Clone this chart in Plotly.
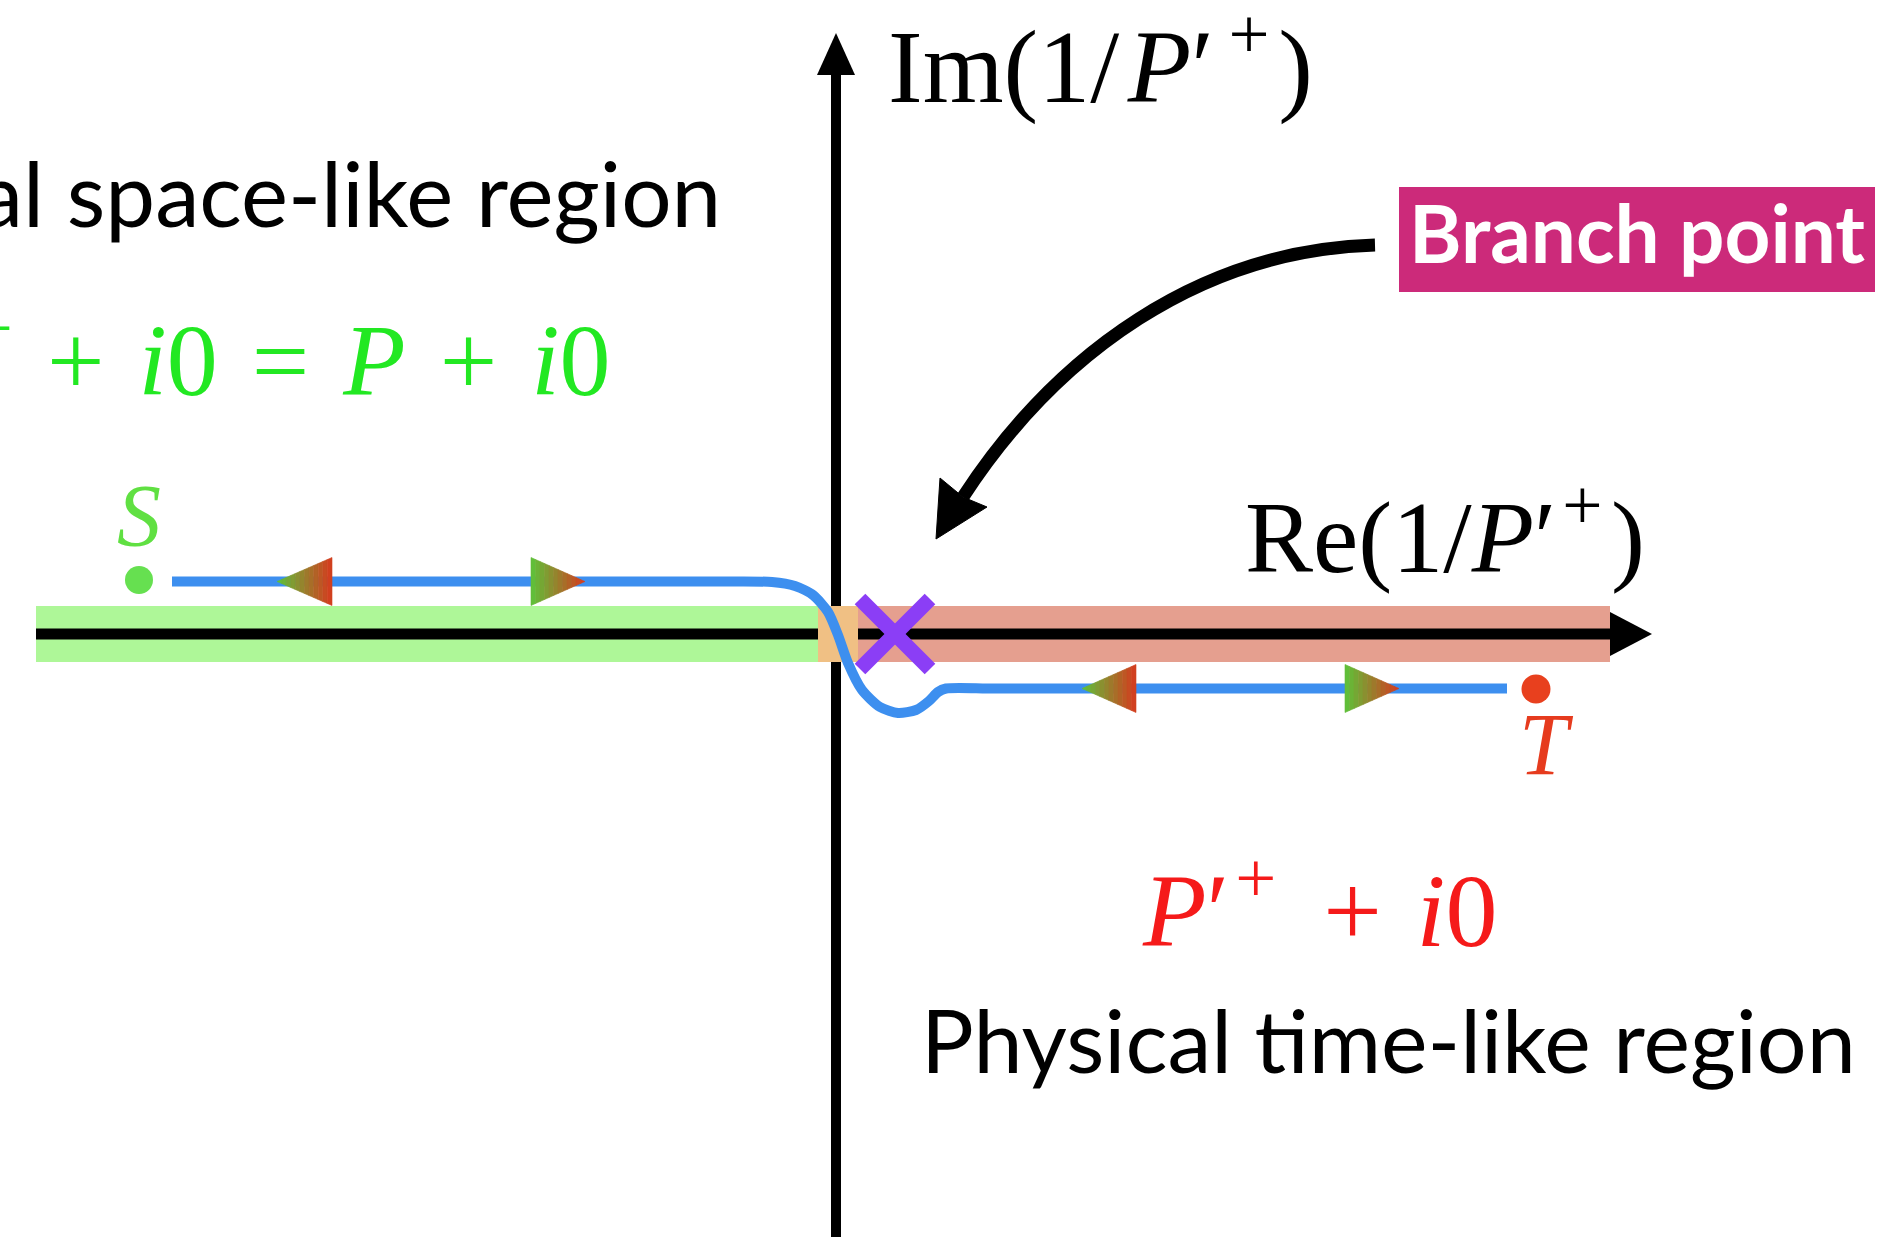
import plotly.graph_objects as go

# ---------------- data (units of the complex 1/P'+ plane, origin where the axes cross) ----------------
x_range = [-8.36, 10.55]
y_range = [-6.03, 6.34]

re_axis = [-8.00, 7.74]          # real-axis shaft
re_axis_tip = 8.16
re_axis_head = 0.22
im_axis = [-6.3, 5.59]           # imaginary-axis shaft
im_axis_tip = 6.01
im_axis_head = 0.19

band_start = [-8.00, -0.18, 0.22]
band_end = [-0.18, 0.22, 7.74]
band_color = ["#aef798", "#f0c084", "#e59f8f"]
band_half = 0.28

branch_point = [0.59, 0.0]
branch_arm = 0.35

contour_re = [-6.64, -1.2, -0.64, -0.41, -0.23, -0.08, 0.02, 0.12, 0.26, 0.44, 0.62, 0.80, 0.93, 1.02, 1.10, 1.6, 6.71]
contour_im = [0.525, 0.525, 0.52, 0.48, 0.39, 0.22, -0.01, -0.29, -0.56, -0.73, -0.79, -0.76, -0.67, -0.58, -0.545, -0.545, -0.545]

endpoint_re = [-6.97, 7.00]
endpoint_im = [0.54, -0.55]
endpoint_size = [28, 29]
endpoint_color = ["#66e050", "#e8401e"]
endpoint_label = ["<i>S</i>", "<i>T</i>"]
endpoint_label_color = ["#60e042", "#e63b1e"]
endpoint_label_re = [-6.97, 7.10]
endpoint_label_im = [1.19, -1.10]

arrow_tip_re = [-5.59, -2.51, 2.46, 5.63]
arrow_base_re = [-5.04, -3.05, 3.00, 5.09]
arrow_im = [0.525, 0.525, -0.545, -0.545]
arrow_half = 0.24
grad_left = (92, 196, 58)
grad_right = (214, 58, 30)
grad_steps = 12

callout_curve_re = [5.39, 3.64, 2.21, 1.27]
callout_curve_im = [3.89, 3.84, 2.81, 1.37]
callout_head_re = [1.00, 1.04, 1.27, 1.51]
callout_head_im = [0.95, 1.56, 1.37, 1.27]

box_re = [5.63, 10.39]
box_im = [3.42, 4.47]
box_text = "<b>Branch point</b>"

im_label = "Im(1/\u200a<i>P</i>′<sup>\u2009+</sup>\u200a)"
re_label = "Re(1/<i>P</i>′<sup>\u200a+</sup>\u200a)"
space_text = "Unphysical space-like region"
space_formula = ("<i>P</i>′<sup>\u200a+</sup>\u200a + \u200a<i>i</i>0\u200a = \u200a"
                 "<i>P</i>\u200a + \u200a<i>i</i>0")
time_formula = "<i>P</i>′<sup>\u200a+</sup>\u2009 + \u200a<i>i</i>0"
time_text = "Physical time-like region"

SERIF = "Liberation Serif, Times New Roman, serif"
SANS = "Lato, Carlito, Calibri, sans-serif"

# ---------------- figure ----------------
fig = go.Figure()
shapes = []

# imaginary axis (drawn first, the bands cover it)
shapes.append(dict(type="line", x0=0, x1=0, y0=im_axis[0], y1=im_axis[1],
                   line=dict(color="black", width=10), layer="below"))
shapes.append(dict(type="path",
                   path=f"M {-im_axis_head},{im_axis[1]} L {im_axis_head},{im_axis[1]} L 0,{im_axis_tip} Z",
                   fillcolor="black", line=dict(width=0), layer="below"))

# bands along the real axis
for s, e, c in zip(band_start, band_end, band_color):
    shapes.append(dict(type="rect", x0=s, x1=e, y0=-band_half, y1=band_half,
                       fillcolor=c, line=dict(width=0), layer="below"))

# real axis (two pieces, interrupted by the threshold patch)
shapes.append(dict(type="line", x0=re_axis[0], x1=band_end[0], y0=0, y1=0,
                   line=dict(color="black", width=11), layer="below"))
shapes.append(dict(type="line", x0=band_start[2], x1=re_axis[1], y0=0, y1=0,
                   line=dict(color="black", width=11), layer="below"))
shapes.append(dict(type="path",
                   path=f"M {re_axis[1]},{-re_axis_head} L {re_axis_tip},0 L {re_axis[1]},{re_axis_head} Z",
                   fillcolor="black", line=dict(width=0), layer="below"))

# integration contour
fig.add_trace(go.Scatter(x=contour_re, y=contour_im, mode="lines",
                         line=dict(color="#3d8fef", width=10, shape="spline", smoothing=0.7),
                         hoverinfo="skip"))

# branch point cross
bx, by = branch_point
fig.add_trace(go.Scatter(x=[bx - branch_arm, bx + branch_arm, None, bx - branch_arm, bx + branch_arm],
                         y=[by - branch_arm, by + branch_arm, None, by + branch_arm, by - branch_arm],
                         mode="lines", line=dict(color="#8b3ef6", width=15), hoverinfo="skip"))

# endpoints S and T
fig.add_trace(go.Scatter(x=endpoint_re, y=endpoint_im, mode="markers",
                         marker=dict(color=endpoint_color, size=endpoint_size, opacity=1,
                                     line=dict(width=0)),
                         hoverinfo="skip"))

# gradient arrowheads on the contour
def mix(t):
    return "rgb({},{},{})".format(*[round(a + (b - a) * t) for a, b in zip(grad_left, grad_right)])

for tip, base, yc in zip(arrow_tip_re, arrow_base_re, arrow_im):
    lo, hi = min(tip, base), max(tip, base)
    length = hi - lo
    for k in range(grad_steps):
        xa = lo + length * k / grad_steps
        xb = lo + length * (k + 1) / grad_steps
        ha = arrow_half * abs(xa - tip) / length
        hb = arrow_half * abs(xb - tip) / length
        col = mix((k + 0.5) / grad_steps)
        shapes.append(dict(type="path",
                           path=f"M {xa},{yc - ha} L {xb},{yc - hb} L {xb},{yc + hb} L {xa},{yc + ha} Z",
                           fillcolor=col, line=dict(color=col, width=0.6), layer="above"))

# callout arrow
cx, cy = callout_curve_re, callout_curve_im
shapes.append(dict(type="path",
                   path=f"M {cx[0]},{cy[0]} C {cx[1]},{cy[1]} {cx[2]},{cy[2]} {cx[3]},{cy[3]}",
                   line=dict(color="black", width=13), layer="above"))
hx, hy = callout_head_re, callout_head_im
shapes.append(dict(type="path",
                   path="M " + " L ".join(f"{a},{b}" for a, b in zip(hx, hy)) + " Z",
                   fillcolor="black", line=dict(color="black", width=1), layer="above"))

# branch point box
shapes.append(dict(type="rect", x0=box_re[0], x1=box_re[1], y0=box_im[0], y1=box_im[1],
                   fillcolor="#cc2a7a", line=dict(width=0), layer="above"))

annotations = [
    dict(x=0.50, y=5.75, text=im_label, xanchor="left", yanchor="middle",
         font=dict(family=SERIF, size=104, color="black")),
    dict(x=4.07, y=1.05, text=re_label, xanchor="left", yanchor="middle",
         font=dict(family=SERIF, size=102, color="black")),
    dict(x=-1.13, y=4.42, text=space_text, xanchor="right", yanchor="middle",
         font=dict(family=SANS, size=89, color="black")),
    dict(x=-2.23, y=2.82, text=space_formula, xanchor="right", yanchor="middle",
         font=dict(family=SERIF, size=102, color="#22e822")),
    dict(x=3.04, y=-2.68, text=time_formula, xanchor="left", yanchor="middle",
         font=dict(family=SERIF, size=104, color="#f51a1a")),
    dict(x=0.83, y=-4.05, text=time_text, xanchor="left", yanchor="middle",
         font=dict(family=SANS, size=88, color="black")),
    dict(x=(box_re[0] + box_re[1]) / 2, y=4.02, text=box_text,
         xanchor="center", yanchor="middle", font=dict(family=SANS, size=80, color="white")),
]
for lab, lx, ly, c in zip(endpoint_label, endpoint_label_re, endpoint_label_im, endpoint_label_color):
    annotations.append(dict(x=lx, y=ly, text=lab, xanchor="center", yanchor="middle",
                            font=dict(family=SERIF, size=88, color=c)))
for a in annotations:
    a.update(xref="x", yref="y", showarrow=False)

fig.update_layout(
    width=1891, height=1237,
    margin=dict(l=0, r=0, t=0, b=0, pad=0),
    paper_bgcolor="white", plot_bgcolor="white",
    showlegend=False,
    xaxis=dict(range=x_range, visible=False, showgrid=False, zeroline=False),
    yaxis=dict(range=y_range, visible=False, showgrid=False, zeroline=False),
    shapes=shapes, annotations=annotations,
)

fig.write_html("out.html", config={"displayModeBar": False},
               post_script="document.body.style.margin='0';document.body.style.overflow='hidden';")
